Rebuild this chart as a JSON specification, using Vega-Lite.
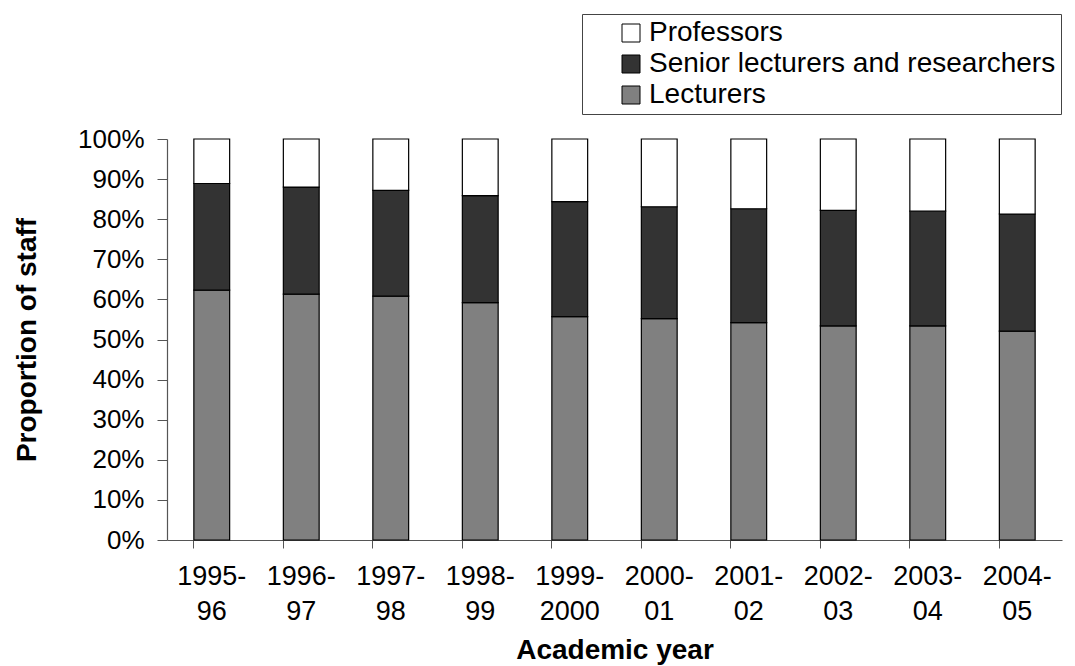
{
  "$schema": "https://vega.github.io/schema/vega-lite/v6.json",
  "width": 895,
  "height": 401,
  "autosize": {"type": "none"},
  "padding": {"left": 167, "top": 139, "right": 13, "bottom": 126},
  "background": "white",
  "config": {
    "font": "Liberation Sans",
    "view": {"stroke": null}
  },
  "data": {
    "values": [
      {"year": "1995-96", "category": "Lecturers", "share": 62.3},
      {"year": "1995-96", "category": "Senior lecturers and researchers", "share": 26.6},
      {"year": "1995-96", "category": "Professors", "share": 11.1},
      {"year": "1996-97", "category": "Lecturers", "share": 61.3},
      {"year": "1996-97", "category": "Senior lecturers and researchers", "share": 26.7},
      {"year": "1996-97", "category": "Professors", "share": 12.0},
      {"year": "1997-98", "category": "Lecturers", "share": 60.8},
      {"year": "1997-98", "category": "Senior lecturers and researchers", "share": 26.4},
      {"year": "1997-98", "category": "Professors", "share": 12.8},
      {"year": "1998-99", "category": "Lecturers", "share": 59.2},
      {"year": "1998-99", "category": "Senior lecturers and researchers", "share": 26.7},
      {"year": "1998-99", "category": "Professors", "share": 14.1},
      {"year": "1999-2000", "category": "Lecturers", "share": 55.7},
      {"year": "1999-2000", "category": "Senior lecturers and researchers", "share": 28.7},
      {"year": "1999-2000", "category": "Professors", "share": 15.6},
      {"year": "2000-01", "category": "Lecturers", "share": 55.2},
      {"year": "2000-01", "category": "Senior lecturers and researchers", "share": 27.9},
      {"year": "2000-01", "category": "Professors", "share": 16.9},
      {"year": "2001-02", "category": "Lecturers", "share": 54.2},
      {"year": "2001-02", "category": "Senior lecturers and researchers", "share": 28.4},
      {"year": "2001-02", "category": "Professors", "share": 17.4},
      {"year": "2002-03", "category": "Lecturers", "share": 53.4},
      {"year": "2002-03", "category": "Senior lecturers and researchers", "share": 28.8},
      {"year": "2002-03", "category": "Professors", "share": 17.8},
      {"year": "2003-04", "category": "Lecturers", "share": 53.4},
      {"year": "2003-04", "category": "Senior lecturers and researchers", "share": 28.6},
      {"year": "2003-04", "category": "Professors", "share": 18.0},
      {"year": "2004-05", "category": "Lecturers", "share": 52.1},
      {"year": "2004-05", "category": "Senior lecturers and researchers", "share": 29.2},
      {"year": "2004-05", "category": "Professors", "share": 18.7}
    ]
  },
  "transform": [
    {"calculate": "indexof(['Lecturers','Senior lecturers and researchers','Professors'], datum.category)", "as": "stackOrder"}
  ],
  "mark": {"type": "bar", "stroke": "black", "strokeWidth": 1.2},
  "encoding": {
    "x": {
      "field": "year",
      "type": "nominal",
      "sort": null,
      "scale": {"paddingInner": 0.6, "paddingOuter": 0.3},
      "axis": {
        "title": "Academic year",
        "titleFont": "Liberation Sans",
        "titleFontSize": 28,
        "titleFontWeight": "bold",
        "titleColor": "black",
        "titlePadding": 12,
        "labelAngle": 0,
        "labelFontSize": 27,
        "labelColor": "black",
        "labelLineHeight": 35,
        "labelPadding": 15,
        "labelExpr": "[split(datum.label, '-')[0] + '-', split(datum.label, '-')[1]]",
        "bandPosition": 0,
        "ticks": true,
        "tickSize": 8,
        "tickColor": "#555",
        "domainColor": "#555",
        "domainWidth": 1.2,
        "grid": false
      }
    },
    "y": {
      "field": "share",
      "type": "quantitative",
      "stack": "zero",
      "scale": {"domain": [0, 100], "nice": false},
      "axis": {
        "title": "Proportion of staff",
        "titleFont": "Liberation Sans",
        "titleFontSize": 28,
        "titleFontWeight": "bold",
        "titleColor": "black",
        "titlePadding": 36,
        "values": [0, 10, 20, 30, 40, 50, 60, 70, 80, 90, 100],
        "labelExpr": "datum.value + '%'",
        "labelFontSize": 26,
        "labelColor": "black",
        "labelPadding": 13,
        "tickSize": 10,
        "tickColor": "#555",
        "domainColor": "#555",
        "domainWidth": 1.2,
        "grid": false
      }
    },
    "color": {
      "field": "category",
      "type": "nominal",
      "scale": {
        "domain": ["Professors", "Senior lecturers and researchers", "Lecturers"],
        "range": ["#ffffff", "#333333", "#808080"]
      },
      "legend": {
        "title": null,
        "orient": "none",
        "legendX": 415,
        "legendY": -125,
        "strokeColor": "#444",
        "fillColor": "white",
        "padding": 5,
        "symbolOffset": 30,
        "symbolType": "square",
        "symbolSize": 324,
        "symbolStrokeColor": "black",
        "symbolStrokeWidth": 1,
        "labelFontSize": 28,
        "labelColor": "black",
        "labelOffset": 4,
        "labelLimit": 600,
        "rowPadding": 3
      }
    },
    "order": {"field": "stackOrder", "type": "quantitative", "sort": "ascending"}
  }
}
